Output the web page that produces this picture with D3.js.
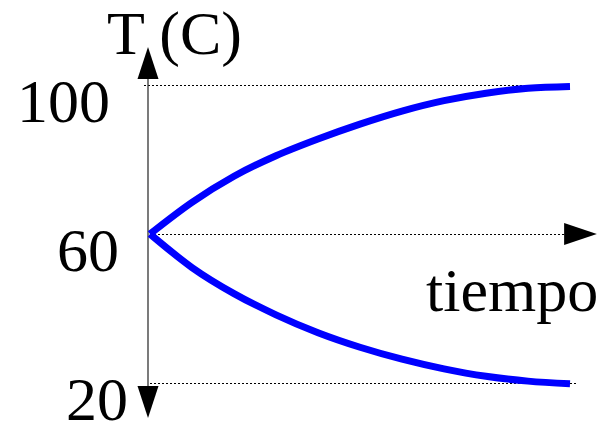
<!DOCTYPE html>
<html>
<head>
<meta charset="utf-8">
<script src="https://cdn.jsdelivr.net/npm/d3@7"></script>
<style>
  body { margin: 0; background: #fff; }
  text { font-family: "Liberation Serif", "Times New Roman", serif; fill: #000; }
</style>
</head>
<body>
<div id="container"></div>
<script>
/* DATA */
const tiempo = [0, 1, 2, 3, 4, 5, 6, 7, 8, 9, 10];
const calentando = [60, 68.5, 75.5, 81, 85.5, 89.5, 93, 95.8, 97.8, 99.1, 99.6];
const enfriando = [60, 51, 44, 38.3, 33.5, 29.6, 26.4, 23.8, 21.8, 20.5, 19.8];
const yTicks = [100, 60, 20];

/* CONSTANTS */
const width = 609, height = 426;

const svg = d3.select("#container")
  .append("svg")
  .attr("width", width)
  .attr("height", height);

/* SCALES */
const xScale = d3.scaleLinear()
  .domain([0, 10])
  .range([150, 570]);

const yScale = d3.scaleLinear()
  .domain([20, 100])
  .range([383, 85]);

const x0 = 148;

// dotted guide lines
svg.append("line")
  .attr("x1", 144).attr("x2", xScale(10))
  .attr("y1", yScale(100)).attr("y2", yScale(100));
svg.append("line")
  .attr("x1", 150).attr("x2", xScale(10.2))
  .attr("y1", yScale(20)).attr("y2", yScale(20));
svg.append("line")
  .attr("x1", 150).attr("x2", xScale(9.86))
  .attr("y1", yScale(60)).attr("y2", yScale(60));
svg.selectAll("line")
  .attr("stroke", "#000")
  .attr("stroke-width", 1)
  .attr("shape-rendering", "crispEdges")
  .attr("stroke-dasharray", "2,2");

// vertical axis with arrows at both ends
svg.append("line")
  .attr("x1", x0).attr("x2", x0)
  .attr("y1", 50).attr("y2", 415)
  .attr("stroke", "#333")
  .attr("stroke-width", 1.3);

svg.append("path")
  .attr("d", `M${x0},47 L${x0 + 10.5},79 L${x0 - 10.5},79 Z`)
  .attr("fill", "#000");
svg.append("path")
  .attr("d", `M${x0},418 L${x0 + 10.5},386 L${x0 - 10.5},386 Z`)
  .attr("fill", "#000");

// time arrow head
const ya = yScale(60);
svg.append("path")
  .attr("d", `M${xScale(10.64)},${ya} L${xScale(9.86)},${ya - 11} L${xScale(9.86)},${ya + 11} Z`)
  .attr("fill", "#000");

// curves
const line = d3.line()
  .x((d, i) => xScale(tiempo[i]))
  .y(d => yScale(d))
  .curve(d3.curveMonotoneX);

[calentando, enfriando].forEach(serie => {
  svg.append("path")
    .datum(serie)
    .attr("d", line)
    .attr("fill", "none")
    .attr("stroke", "#0000ff")
    .attr("stroke-width", 7);
});

// tick labels
svg.selectAll(".tick-label")
  .data(yTicks)
  .join("text")
  .attr("class", "tick-label")
  .attr("x", d => 132.5 - 0.225 * d)
  .attr("y", d => yScale(d) + 37)
  .attr("text-anchor", "end")
  .attr("font-size", 62)
  .text(d => d);

// axis titles
svg.append("text")
  .attr("x", 107)
  .attr("y", 54)
  .attr("font-size", 62)
  .attr("xml:space", "preserve")
  .text("T (C)");

svg.append("text")
  .attr("x", 426)
  .attr("y", 311)
  .attr("font-size", 62)
  .text("tiempo");
</script>
</body>
</html>
